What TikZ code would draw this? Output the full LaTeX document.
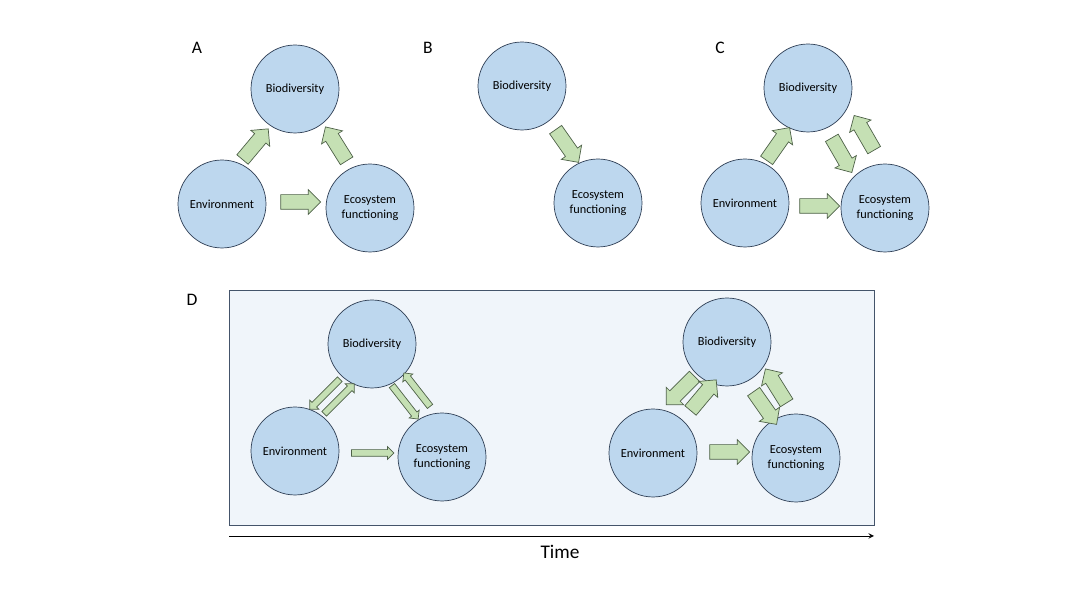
\documentclass[tikz,border=0pt]{standalone}
\usepackage{fontspec}
\setmainfont{Carlito}
\usetikzlibrary{shapes.arrows}
\definecolor{circfill}{HTML}{BDD7EE}
\definecolor{circline}{HTML}{2F3F55}
\definecolor{arrfill}{HTML}{C5E0B4}
\definecolor{arrline}{HTML}{4E6148}
\definecolor{boxfill}{HTML}{F0F5FA}
\definecolor{boxline}{HTML}{44546A}
\tikzset{
  factor/.style={circle,draw=circline,fill=circfill,minimum size=1.76cm,
    inner sep=0pt,align=center,font=\fontsize{7}{8.5}\selectfont},
  flow/.style={single arrow,draw=arrline,fill=arrfill,inner sep=0.14cm,
    single arrow head extend=0.1cm,minimum height=#1,text width=0pt},
  flow/.default=0.8cm,
  thinflow/.style={single arrow,draw=arrline,fill=arrfill,inner sep=0.06cm,
    single arrow head extend=0.06cm,minimum height=#1,text width=0pt},
  panel/.style={font=\fontsize{10}{12}\selectfont}
}
\begin{document}
\begin{tikzpicture}[x=0.02cm,y=-0.02cm]
  \useasboundingbox (0,0) rectangle (1080,607);

  %==================== A ====================
  \node[panel] (labA) at (197,48) {A};
  \node[factor] (bioA) at (295,89) {Biodiversity};
  \node[factor] (envA) at (222,204) {Environment};
  \node[factor] (ecoA) at (370,208) {Ecosystem\\functioning};
  \node[flow,rotate=50] (aEB) at (253,147) {};
  \node[flow,rotate=122] (aCB) at (338,147) {};
  \node[flow] (aEC) at (297,202) {};

  %==================== B ====================
  \node[panel] (labB) at (428,48) {B};
  \node[factor] (bioB) at (522,86) {Biodiversity};
  \node[factor] (ecoB) at (598,203) {Ecosystem\\functioning};
  \node[flow,rotate=-55] (bBC) at (565,143) {};

  %==================== C ====================
  \node[panel] (labC) at (720,48) {C};
  \node[factor] (bioC) at (808,88) {Biodiversity};
  \node[factor] (envC) at (745,203) {Environment};
  \node[factor] (ecoC) at (885,208) {Ecosystem\\functioning};
  \node[flow,rotate=55] (cEB) at (776,147) {};
  \node[flow,rotate=-60] (cBC) at (840,152) {};
  \node[flow,rotate=120] (cCB) at (866,136) {};
  \node[flow] (cEC) at (816,206) {};

  %==================== D ====================
  \node[panel] (labD) at (192,300) {D};
  \node[draw=boxline,fill=boxfill,minimum width=12.9cm,minimum height=4.7cm,
    inner sep=0pt] (box) at (551.5,407.5) {};

  % left: weak links
  \node[factor] (bioL) at (372,344) {Biodiversity};
  \node[factor] (envL) at (295,451) {Environment};
  \node[factor] (ecoL) at (442,457) {Ecosystem\\functioning};
  \node[thinflow=0.85cm,rotate=-135] (lBE) at (326,393) {};
  \node[thinflow=0.85cm,rotate=45] (lEB) at (338,400) {};
  \node[thinflow=0.85cm,rotate=-52] (lBC) at (404,401) {};
  \node[thinflow=0.85cm,rotate=128] (lCB) at (418,391) {};
  \node[thinflow=0.85cm] (lEC) at (371,453) {};

  % right: strong links
  \node[factor] (bioR) at (727,342) {Biodiversity};
  \node[factor] (envR) at (653,453) {Environment};
  \node[factor] (ecoR) at (796,458) {Ecosystem\\functioning};
  \node[flow,rotate=-135] (rBE) at (683,388) {};
  \node[flow,rotate=50] (rEB) at (701,398) {};
  \node[flow,rotate=-55] (rBC) at (763,405) {};
  \node[flow,rotate=122] (rCB) at (778,389) {};
  \node[flow] (rEC) at (726,452) {};

  % time axis
  \coordinate (t0) at (229,536);
  \coordinate (t1) at (874,536);
  \draw[-stealth] (t0) -- (t1);
  \node[panel,font=\fontsize{11}{13}\selectfont] (time) at (560,552) {Time};
\end{tikzpicture}
\end{document}
